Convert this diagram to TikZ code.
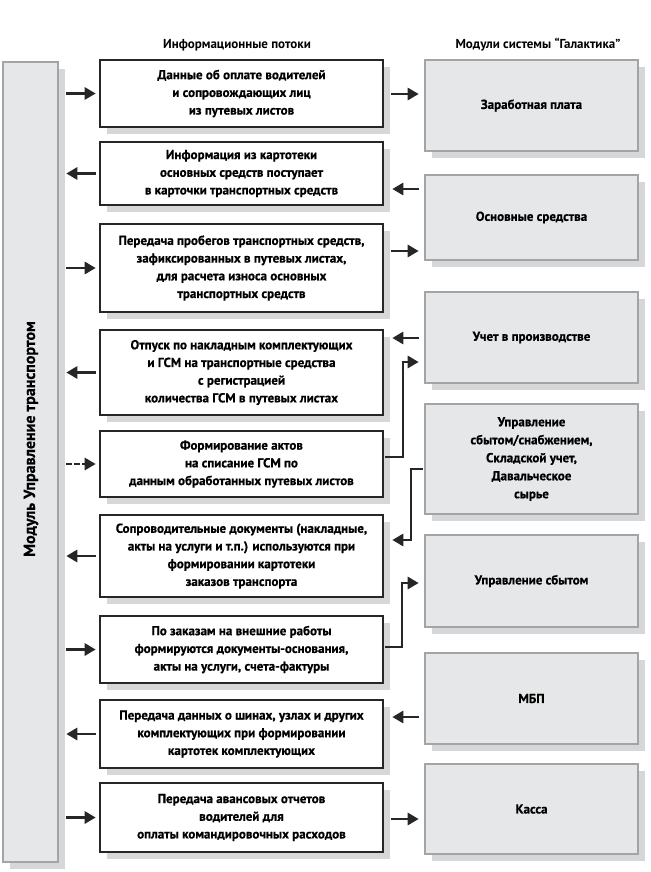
\documentclass[tikz,border=0pt]{standalone}
\usepackage{fontspec}
\setmainfont{PT Sans}
\newfontfamily\heavy{PT Sans Bold}[FakeBold=0.6]
\usetikzlibrary{arrows.meta,shadows,calc}
\definecolor{panel}{HTML}{E6E7E8}
\definecolor{panelline}{HTML}{A2A4A6}
\definecolor{shade}{HTML}{D6D7D8}
\definecolor{ink}{HTML}{262626}
\tikzset{
  flow/.style={draw=ink, line width=2.6pt, fill=white, align=center, inner sep=0pt,
    font=\heavy\fontsize{13}{17.7}\selectfont,
    drop shadow={shadow xshift=7pt, shadow yshift=-7pt, fill=shade, opacity=1}},
  module/.style={draw=panelline, line width=2.6pt, fill=panel, align=center, inner sep=0pt,
    font=\heavy\fontsize{13}{18}\selectfont,
    drop shadow={shadow xshift=7pt, shadow yshift=-7pt, fill=shade, opacity=1},
    append after command={\pgfextra{\draw[white, line width=0.6pt]
      ([shift={(1.8pt,-1.8pt)}]\tikzlastnode.north west) rectangle
      ([shift={(-1.8pt,1.8pt)}]\tikzlastnode.south east);}}},
  arr/.style={draw=ink, line width=2.8pt, -{Triangle[length=11pt,width=12pt]}},
  head/.style={font=\bfseries\fontsize{13}{14}\selectfont}
}
\begin{document}
\begin{tikzpicture}[x=1pt,y=-1pt]
\useasboundingbox (0,0) rectangle (650,872);

\node[head] (h1) at (237,45) {Информационные потоки};
\node[head] (h2) at (538,45) {Модули системы “Галактика”};

% left bar
\node[module, minimum width=55pt, minimum height=800pt] (bar) at (30.5,462) {};
\node[rotate=90, font=\heavy\fontsize{16}{18}\selectfont] (bartext) at (31,439) {Модуль Управление транспортом};

% middle flow boxes
\node[flow, minimum width=283pt, minimum height=67pt] (m1) at (241.5,93.5)
  {Данные об оплате водителей\\и сопровождающих лиц\\из путевых листов};
\node[flow, minimum width=283pt, minimum height=63pt] (m2) at (241.5,173.5)
  {Информация из картотеки\\основных средств поступает\\в карточки транспортных средств};
\node[flow, minimum width=283pt, minimum height=88pt] (m3) at (241.5,268)
  {Передача пробегов транспортных средств,\\зафиксированных в путевых листах,\\для расчета износа основных\\транспортных средств};
\node[flow, minimum width=283pt, minimum height=85pt] (m4) at (241.5,372.5)
  {Отпуск по накладным комплектующих\\и ГСМ на транспортные средства\\с регистрацией\\количества ГСМ в путевых листах};
\node[flow, minimum width=283pt, minimum height=66pt] (m5) at (241.5,464)
  {Формирование актов\\на списание ГСМ по\\данным обработанных путевых листов};
\node[flow, minimum width=283pt, minimum height=82pt] (m6) at (241.5,556)
  {Сопроводительные документы (накладные,\\акты на услуги и т.п.) используются при\\формировании картотеки\\заказов транспорта};
\node[flow, minimum width=283pt, minimum height=67pt] (m7) at (241.5,649.5)
  {По заказам на внешние работы\\формируются документы-основания,\\акты на услуги, счета-фактуры};
\node[flow, minimum width=283pt, minimum height=68pt] (m8) at (241.5,734)
  {Передача данных о шинах, узлах и других\\комплектующих при формировании\\картотек комплектующих};
\node[flow, minimum width=283pt, minimum height=69pt] (m9) at (241.5,817.5)
  {Передача авансовых отчетов\\водителей для\\оплаты командировочных расходов};

% right module boxes
\node[module, minimum width=213pt, minimum height=91pt] (r1) at (531.5,105.5) {Заработная плата};
\node[module, minimum width=213pt, minimum height=85pt] (r2) at (531.5,217.5) {Основные средства};
\node[module, minimum width=213pt, minimum height=91pt] (r3) at (531.5,337.5) {Учет в производстве};
\node[module, minimum width=213pt, minimum height=110pt] (r4) at (531.5,459)
  {Управление\\сбытом/снабжением,\\Складской учет,\\Давальческое\\сырье};
\node[module, minimum width=213pt, minimum height=92pt] (r5) at (531.5,581) {Управление сбытом};
\node[module, minimum width=213pt, minimum height=91pt] (r6) at (531.5,698.5) {МБП};
\node[module, minimum width=213pt, minimum height=90pt] (r7) at (531.5,809) {Касса};

% left arrows
\draw[arr] ([xshift=7pt]bar.east |- m1.west) -- ([xshift=-3pt]m1.west);
\draw[arr] ([xshift=-3pt]m2.west) -- ([xshift=7pt]bar.east |- m2.west);
\draw[arr] ([xshift=7pt]bar.east |- m3.west) -- ([xshift=-3pt]m3.west);
\draw[arr] ([xshift=-3pt]m4.west) -- ([xshift=7pt]bar.east |- m4.west);
\draw[arr, dash pattern=on 6pt off 2pt] ([xshift=7pt]bar.east |- m5.west) -- ([xshift=-3pt]m5.west);
\draw[arr] ([xshift=-3pt]m6.west) -- ([xshift=7pt]bar.east |- m6.west);
\draw[arr] ([xshift=7pt]bar.east |- m7.west) -- ([xshift=-3pt]m7.west);
\draw[arr] ([xshift=-3pt]m8.west) -- ([xshift=7pt]bar.east |- m8.west);
\draw[arr] ([xshift=7pt]bar.east |- m9.west) -- ([xshift=-3pt]m9.west);

% right arrows
\draw[arr] ([xshift=7pt]m1.east |- 0,94) -- ([xshift=-5pt]r1.west |- 0,94);
\draw[arr] ([xshift=-5pt]r2.west |- 0,189) -- ([xshift=8pt]m2.east |- 0,189);
\draw[arr] ([xshift=7pt]m3.east |- 0,251) -- ([xshift=-5pt]r2.west |- 0,251);
\draw[arr] ([xshift=-5pt]r3.west |- 0,338) -- ([xshift=8pt]m4.east |- 0,338);
\draw[arr] ([xshift=1pt]m5.east |- 0,457) -| (403,362) -- ([xshift=-5pt]r3.west |- 0,362);
\draw[arr] ([xshift=-1pt]r4.west |- 0,469) -| (411,540) -- ([xshift=8pt]m6.east |- 0,540);
\draw[arr] ([xshift=1pt]m7.east |- 0,647) -| (402,583) -- ([xshift=-5pt]r5.west |- 0,583);
\draw[arr] ([xshift=-5pt]r6.west |- 0,717) -- ([xshift=8pt]m8.east |- 0,717);
\draw[arr] ([xshift=7pt]m9.east |- 0,819) -- ([xshift=-5pt]r7.west |- 0,819);
\end{tikzpicture}
\end{document}
